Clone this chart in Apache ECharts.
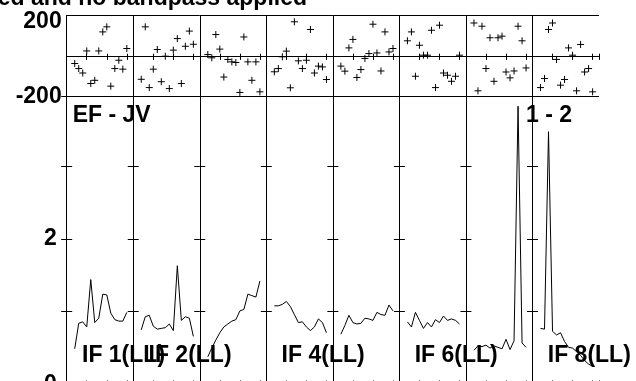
<!DOCTYPE html>
<html>
<head>
<meta charset="utf-8">
<script src="https://cdn.jsdelivr.net/npm/echarts@6/dist/echarts.min.js"></script>
<style>
  html, body { margin: 0; padding: 0; background: #fff; }
  #chart { width: 636px; height: 381px; }
</style>
</head>
<body>
<div id="chart"></div>
<script>
// channels plotted in every IF panel
const channels = [2, 3, 4, 5, 6, 7, 8, 9, 10, 11, 12, 13, 14, 15];

// phase (degrees) per IF
const phaseIF1 = [-36, -61, -83, 26, -135, -119, 26, 120, 145, -148, -61, -20, -64, 38];
const phaseIF2 = [-114, 145, -155, -64, 33, -126, 0, -160, 30, 87, -135, 49, 124, 59];
const phaseIF3 = [8, -8, 107, 35, -103, -16, -28, -31, -179, 95, -28, -119, -28, -176];
const phaseIF4 = [-77, -61, -3, 25, -156, 170, -23, -61, -20, 132, -83, -49, -53, -115];
const phaseIF5 = [-49, -74, 41, 83, -105, -66, -11, 13, 158, 16, -73, 120, 21, 38];
const phaseIF6 = [76, 120, -99, 54, 5, 5, 128, -155, 153, -83, -94, -124, -99, 5];
const phaseIF7 = [164, -171, 148, -61, 91, -124, 91, 99, -78, -107, -73, 148, 76, -58];
const phaseIF8 = [-155, -110, 132, 164, -16, -143, -115, 41, 5, -171, 58, -78, -61, -176];

// amplitude per IF
const ampIF1 = [0.49, 0.84, 0.86, 0.79, 1.44, 0.85, 0.91, 1.24, 1.23, 0.98, 0.89, 0.87, 0.87, 0.99];
const ampIF2 = [0.75, 0.93, 0.95, 0.80, 0.76, 0.77, 0.78, 0.83, 0.74, 1.63, 0.88, 0.93, 0.91, 0.66];
const ampIF3 = [0.38, 0.50, 0.61, 0.71, 0.79, 0.83, 0.87, 0.89, 1.01, 1.03, 1.24, 1.22, 1.20, 1.42];
const ampIF4 = [1.08, 1.08, 1.10, 1.14, 1.07, 0.96, 0.85, 0.86, 0.79, 0.74, 0.79, 0.90, 0.85, 0.71];
const ampIF5 = [0.69, 0.81, 0.95, 0.85, 0.83, 0.84, 0.91, 0.90, 0.88, 0.99, 0.96, 0.95, 1.09, 1.01];
const ampIF6 = [0.86, 0.79, 0.99, 0.88, 0.77, 0.85, 0.79, 0.89, 0.85, 0.94, 0.88, 0.90, 0.88, 0.83];
const ampIF7 = [0.47, 0.53, 0.52, 0.54, 0.50, 0.53, 0.51, 0.49, 0.62, 0.48, 0.60, 3.82, 0.57, 0.51];
const ampIF8 = [0.77, 0.76, 3.47, 0.73, 0.68, 0.71, 0.59, 0.51, 0.50, 0.45, 0.40, 0.33, 0.28, 0.25];

const ifLabels = ["IF 1(LL)", "IF 2(LL)", "", "IF 4(LL)", "", "IF 6(LL)", "", "IF 8(LL)"];
const phaseLabels = [200, -200];
const ampLabels = [0, 2];
const titleText = "ed and no bandpass applied";
const baselineText = "EF - JV";
const sourceText = "1 - 2";

const phase = [phaseIF1, phaseIF2, phaseIF3, phaseIF4, phaseIF5, phaseIF6, phaseIF7, phaseIF8];
const amp = [ampIF1, ampIF2, ampIF3, ampIF4, ampIF5, ampIF6, ampIF7, ampIF8];

const FONT = '"Liberation Sans", Arial, Helvetica, sans-serif';
const FS = 23;
const PLUS = "path://M0,5L10,5M5,0L5,10";

const left0 = 66.7;
const pw = 66.54;
const phaseTop = 15.7, phaseH = 81;
const ampTop = 96.7, ampH = 287.8;

const grid = [], xAxis = [], yAxis = [], series = [];
const line = { show: true, lineStyle: { color: "#000", width: 1 } };

function xPair(gi, topLen, bottomLen) {
  ["bottom", "top"].forEach((pos) => {
    xAxis.push({
      type: "value", gridIndex: gi, position: pos, min: 0, max: 16.6, interval: 5,
      axisLine: line,
      axisTick: { show: true, inside: true, length: pos === "top" ? topLen : bottomLen, lineStyle: { color: "#000" } },
      axisLabel: { show: false }, splitLine: { show: false }
    });
  });
}

for (let i = 0; i < 8; i++) {
  grid.push({ left: left0 + i * pw, top: phaseTop, width: pw, height: phaseH, outerBoundsMode: "none", containLabel: false });
}
for (let i = 0; i < 8; i++) {
  grid.push({ left: left0 + i * pw, top: ampTop, width: pw, height: ampH, outerBoundsMode: "none", containLabel: false });
}

// phase panels
for (let i = 0; i < 8; i++) {
  xPair(i, 3.7, 2.5);
  ["left", "right"].forEach((pos) => {
    yAxis.push({
      type: "value", gridIndex: i, position: pos, min: -200, max: 200, interval: 200,
      axisLine: line, axisTick: { show: false },
      splitLine: { show: pos === "left", lineStyle: { color: "#000", width: 1 } },
      axisLabel: {
        show: i === 0 && pos === "left", margin: 5,
        color: "#000", fontSize: FS, fontWeight: "bold", fontFamily: FONT,
        formatter: (v) => (v === phaseLabels[0] ? "{t|" + v + "}" : v === phaseLabels[1] ? String(v) : ""),
        rich: { t: { padding: [12, 0, 0, 0], color: "#000", fontSize: FS, fontWeight: "bold", fontFamily: FONT } }
      }
    });
  });
}
// amplitude panels
for (let i = 0; i < 8; i++) {
  xPair(8 + i, 5, 4);
  ["left", "right"].forEach((pos) => {
    yAxis.push({
      type: "value", gridIndex: 8 + i, position: pos, min: 0, max: 3.95, interval: 1,
      axisLine: line,
      axisTick: { show: true, inside: true, length: 5.5, lineStyle: { color: "#000" } },
      splitLine: { show: false },
      axisLabel: {
        show: i === 0 && pos === "left", margin: 10,
        color: "#000", fontSize: FS, fontWeight: "bold", fontFamily: FONT,
        formatter: (v) => (ampLabels.includes(v) ? String(v) : "")
      }
    });
  });
}

for (let i = 0; i < 8; i++) {
  series.push({
    type: "scatter", xAxisIndex: 2 * i, yAxisIndex: 2 * i,
    data: channels.map((c, k) => [c, phase[i][k]]),
    symbol: PLUS, symbolSize: 7, silent: true,
    itemStyle: { color: "none", borderColor: "#000", borderWidth: 1, opacity: 1 }
  });
  series.push({
    type: "line", xAxisIndex: 2 * (8 + i), yAxisIndex: 2 * (8 + i),
    data: channels.map((c, k) => [c, amp[i][k]]),
    showSymbol: false, silent: true,
    lineStyle: { color: "#000", width: 1 }
  });
}

const textStyle = (t, align) => ({
  text: t, fill: "#000", font: "bold " + FS + "px " + FONT,
  textAlign: align || "left", textVerticalAlign: "middle"
});
const graphics = [
  { type: "text", x: 307, y: -1.5, style: textStyle(titleText, "right") },
  { type: "text", x: 72.7, y: 115.5, style: textStyle(baselineText) },
  { type: "text", x: 526, y: 116, style: textStyle(sourceText) }
];
ifLabels.forEach((t, i) => {
  if (t) graphics.push({ type: "text", x: left0 + i * pw + 15.3, y: 355.3, style: textStyle(t) });
});

const chart = echarts.init(document.getElementById("chart"));
chart.setOption({
  animation: false,
  backgroundColor: "#fff",
  grid, xAxis, yAxis, series,
  graphic: { elements: graphics }
});
</script>
</body>
</html>
